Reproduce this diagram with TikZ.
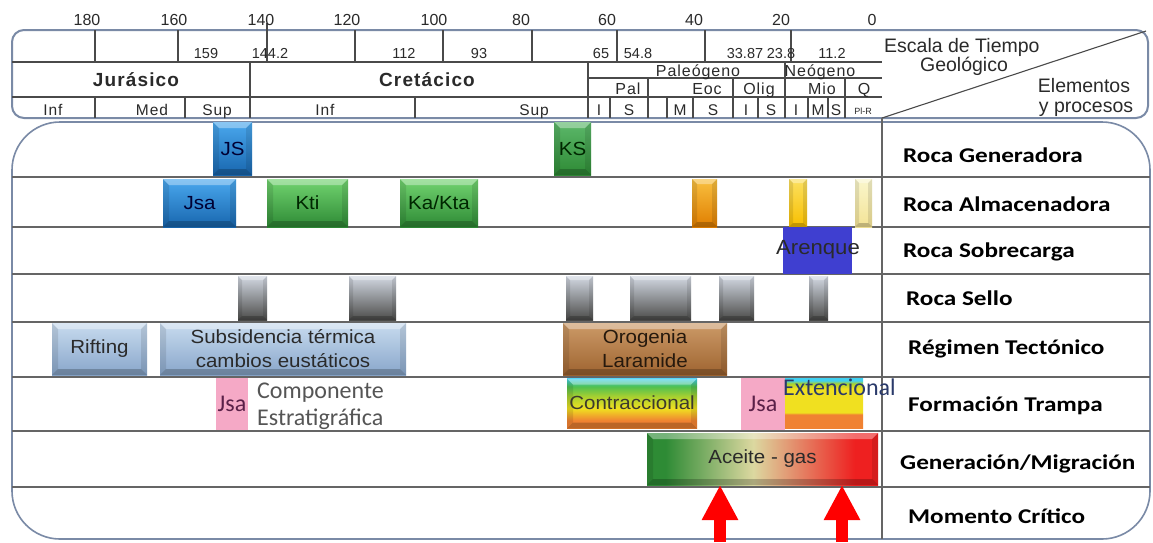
\documentclass[tikz,border=0pt]{standalone}
\usepackage{fontspec}
\setmainfont{Liberation Sans}
\newfontfamily\fAr{Liberation Sans}
\newfontfamily\fArW[FakeStretch=1.08]{Liberation Sans}
\newfontfamily\fArS[LetterSpace=6]{Liberation Sans}
\newfontfamily\fCal{Carlito}
\newfontfamily\fLab[FakeStretch=1.2]{Carlito}
\usetikzlibrary{arrows.meta}

\definecolor{frameC}{HTML}{7A8AA6}
\definecolor{lineC}{HTML}{4A4A4A}
\definecolor{txtC}{HTML}{2A2A2A}
\definecolor{jblue}{HTML}{1E7BCF}
\definecolor{jblueL}{HTML}{4AA8EE}
\definecolor{jblueD}{HTML}{1866AE}
\definecolor{kgreen}{HTML}{45B048}
\definecolor{kgreenL}{HTML}{72D470}
\definecolor{kgreenD}{HTML}{2E8A35}
\definecolor{ksgreen}{HTML}{3A9A48}
\definecolor{ksgreenL}{HTML}{5CB86A}
\definecolor{sel1}{HTML}{D2D8E2}
\definecolor{sel2}{HTML}{A4AAB2}
\definecolor{sel3}{HTML}{4C4C4A}
\definecolor{rift}{HTML}{A6C0E0}
\definecolor{riftL}{HTML}{C8DBEF}
\definecolor{riftD}{HTML}{88A6CA}
\definecolor{orog}{HTML}{B87A42}
\definecolor{orogL}{HTML}{CC9A68}
\definecolor{orogD}{HTML}{9E6430}
\definecolor{pinkC}{HTML}{F5A9C6}
\definecolor{arenC}{HTML}{3F3FD0}
\definecolor{orng}{HTML}{F29400}
\definecolor{orngL}{HTML}{F8C040}
\definecolor{orngD}{HTML}{E07E00}
\definecolor{yell}{HTML}{F7C600}
\definecolor{yellL}{HTML}{FBE060}
\definecolor{pale}{HTML}{F2EEA6}
\definecolor{paleL}{HTML}{FAF6CC}
\definecolor{cOr}{HTML}{F08232}
\definecolor{cYe}{HTML}{F0E020}
\definecolor{cYg}{HTML}{A8D030}
\definecolor{cGr}{HTML}{50C050}
\definecolor{cCy}{HTML}{40D0F0}
\definecolor{aG}{HTML}{2E8B35}
\definecolor{aM}{HTML}{DCD8A0}
\definecolor{aR}{HTML}{EE2020}
\definecolor{jsaT}{HTML}{5A2048}
\definecolor{extT}{HTML}{2A3A6A}

\pgfdeclareverticalshading{contrsh}{100bp}{color(0bp)=(cOr); color(25bp)=(cOr); color(33bp)=(cOr); color(45bp)=(cYe); color(57bp)=(cYg); color(67bp)=(cGr); color(75bp)=(cCy); color(100bp)=(cCy)}
\pgfdeclareverticalshading{extsh}{100bp}{color(0bp)=(cOr); color(25bp)=(cOr); color(39bp)=(cOr); color(41bp)=(cYe); color(65bp)=(cYe); color(70bp)=(cYg); color(73bp)=(cCy); color(75bp)=(cCy); color(100bp)=(cCy)}
\pgfdeclarehorizontalshading{acesh}{100bp}{color(0bp)=(aG); color(25bp)=(aG); color(29bp)=(aG); color(48bp)=(aM); color(70bp)=(aR); color(75bp)=(aR); color(100bp)=(aR)}

\tikzset{
  bev/.style={path picture={
    \fill[white,opacity=.35] (path picture bounding box.north west) -- (path picture bounding box.north east)
      -- ([shift={(-#1,-#1)}]path picture bounding box.north east) -- ([shift={(#1,-#1)}]path picture bounding box.north west) -- cycle;
    \fill[black,opacity=.22] (path picture bounding box.south west) -- (path picture bounding box.south east)
      -- ([shift={(-#1,#1)}]path picture bounding box.south east) -- ([shift={(#1,#1)}]path picture bounding box.south west) -- cycle;
    \fill[black,opacity=.10] (path picture bounding box.north west) -- (path picture bounding box.south west)
      -- ([shift={(#1,#1)}]path picture bounding box.south west) -- ([shift={(#1,-#1)}]path picture bounding box.north west) -- cycle;
    \fill[black,opacity=.10] (path picture bounding box.north east) -- (path picture bounding box.south east)
      -- ([shift={(-#1,#1)}]path picture bounding box.south east) -- ([shift={(-#1,-#1)}]path picture bounding box.north east) -- cycle;
  }},
  bar/.style={inner sep=0pt, outer sep=0pt, align=center, text=txtC,
    font=\fontsize{19}{24}\selectfont\fArW, bev=6pt},
  blu/.style={bar, top color=jblueL, middle color=jblue, bottom color=jblueD, text=black!80!blue},
  grn/.style={bar, top color=kgreenL, middle color=kgreen, bottom color=kgreenD, text=black!85!green},
  grn2/.style={bar, top color=ksgreenL, middle color=ksgreen, bottom color=kgreenD, text=black!85!green},
  sel/.style={bar, top color=sel1, middle color=sel2, bottom color=sel3, bev=4pt, minimum height=44pt},
  rif/.style={bar, top color=riftL, middle color=rift, bottom color=riftD},
  bartxt/.style={inner sep=0pt, text=txtC, font=\fontsize{19}{24}\selectfont\fArW},
  caltxt/.style={inner sep=0pt, font=\fontsize{24}{27}\selectfont\fCal},
  hline/.style={draw=lineC, line width=1.1pt},
  rowline/.style={draw=lineC!85, line width=1.5pt},
  tick/.style={anchor=base, inner sep=0pt, text=txtC, font=\fontsize{16}{18}\selectfont\fAr},
  small/.style={anchor=base, inner sep=0pt, text=txtC, font=\fontsize{14.5}{16}\selectfont\fAr},
  per/.style={anchor=base, inner sep=0pt, text=txtC, font=\fontsize{19}{22}\selectfont\fArS\bfseries},
  ep/.style={anchor=base, inner sep=0pt, text=txtC, font=\fontsize{16}{18}\selectfont\fArS},
  sub/.style={anchor=base, inner sep=0pt, text=txtC, font=\fontsize{15.5}{17}\selectfont\fArS},
  hdrt/.style={anchor=base, inner sep=0pt, text=txtC, font=\fontsize{19.5}{21}\selectfont\fAr},
  lab/.style={anchor=west, inner sep=0pt, text=black, font=\fontsize{21}{24}\selectfont\fLab\bfseries},
  redarrow/.style={draw=red, line width=12pt, -{Triangle[width=34pt,length=35pt]}},
}

\begin{document}
\begin{tikzpicture}[x=1pt,y=-1pt]
\useasboundingbox (0,0) rectangle (1153,542);
\fill[white] (0,0) rectangle (1153,542);

% ---------- header frame and grid ----------
\draw[draw=frameC, line width=2pt, rounded corners=12pt] (12,30) rectangle (1148,118);
\draw[hline] (12,62) -- (882,62);
\draw[hline] (12,97) -- (882,97);
\draw[hline] (588,78) -- (882,78);
\foreach \x in {95,178,355,443,532,617,705,791} \draw[hline] (\x,30) -- (\x,62);
\draw[hline, line width=1.6pt] (267,23) -- (267,62);
\foreach \x in {250,588,785} \draw[hline] (\x,62) -- (\x,118);
\foreach \x in {648,733,845} \draw[hline] (\x,78) -- (\x,118);
\foreach \x in {95,185,415,610,667,693,758,808,828} \draw[hline] (\x,97) -- (\x,118);
\draw[hline] (882,118) -- (1146,31);

% tick labels
\node[tick] (t180) at (87,25) {180};
\node[tick] (t160) at (174,25) {160};
\node[tick] (t140) at (261,25) {140};
\node[tick] (t120) at (347,25) {120};
\node[tick] (t100) at (434,25) {100};
\node[tick] (t80) at (521,25) {80};
\node[tick] (t60) at (607,25) {60};
\node[tick] (t40) at (694,25) {40};
\node[tick] (t20) at (781,25) {20};
\node[tick] (t0) at (872,25) {0};

% small ages
\node[small] (a159) at (206,58) {159};
\node[small] (a144) at (270,58) {144.2};
\node[small] (a112) at (404,58) {112};
\node[small] (a93) at (479,58) {93};
\node[small] (a65) at (601,58) {65};
\node[small] (a548) at (638,58) {54.8};
\node[small] (a3387) at (745,58) {33.87};
\node[small] (a238) at (781,58) {23.8};
\node[small] (a112b) at (832,58) {11.2};

% periods
\node[per] (jur) at (136,86) {Jurásico};
\node[per] (cre) at (427,86) {Cretácico};
\node[ep] (pale) at (698,76) {Paleógeno};
\node[ep] (neo) at (820,76) {Neógeno};
\node[ep] (pal) at (628,94) {Pal};
\node[ep] (eoc) at (707,94) {Eoc};
\node[ep] (olig) at (759,94) {Olig};
\node[ep] (mio) at (822,94) {Mio};
\node[ep] (q) at (864,94) {Q};

% epochs / stages
\node[sub] (jinf) at (53,115) {Inf};
\node[sub] (jmed) at (152,115) {Med};
\node[sub] (jsup) at (217,115) {Sup};
\node[sub] (kinf) at (325,115) {Inf};
\node[sub] (ksup) at (534,115) {Sup};
\node[sub] (pi) at (599,115) {I};
\node[sub] (ps) at (629,115) {S};
\node[sub] (em) at (680,115) {M};
\node[sub] (es) at (713,115) {S};
\node[sub] (oi) at (746,115) {I};
\node[sub] (os) at (771,115) {S};
\node[sub] (mi) at (796,115) {I};
\node[sub] (mm) at (818,115) {M};
\node[sub] (ms) at (836,115) {S};
\node[anchor=base, inner sep=0pt, text=txtC, font=\fontsize{9}{10}\selectfont\fAr] (plr) at (863,114) {Pl-R};

% header right cell
\node[hdrt, anchor=base west] (esc) at (884,52) {Escala de Tiempo};
\node[hdrt] (geo) at (964,71) {Geológico};
\node[hdrt] (ele) at (1084,92) {Elementos};
\node[hdrt] (ypr) at (1086,112) {y procesos};

% ---------- body ----------
\draw[draw=frameC, line width=1.6pt, rounded corners=48pt] (12,122) rectangle (1150,539);
\foreach \y in {177,227,274,322,377,431,487} \draw[rowline] (12,\y) -- (1150,\y);
\draw[rowline] (882,118) -- (882,539);

% row labels
\node[lab] (l1) at (903,155) {Roca Generadora};
\node[lab] (l2) at (903,204) {Roca Almacenadora};
\node[lab] (l3) at (903,252) {Roca Sobrecarga};
\node[lab] (l4) at (906,298) {Roca Sello};
\node[lab] (l5) at (908,349) {Régimen Tectónico};
\node[lab] (l6) at (908,406) {Formación Trampa};
\node[lab] (l7) at (900,464) {Generación/Migración};
\node[lab] (l8) at (908,516) {Momento Crítico};

% row 1: Roca generadora
\node[blu, minimum width=39pt, minimum height=53pt] (js) at (232.5,148.5) {JS};
\node[grn2, minimum width=37pt, minimum height=53pt] (ks) at (572.5,148.5) {KS};

% row 2: Roca almacenadora
\node[blu, minimum width=73pt, minimum height=48pt] (jsa) at (199.5,203) {Jsa};
\node[grn, minimum width=81pt, minimum height=48pt] (kti) at (307.5,203) {Kti};
\node[grn, minimum width=78pt, minimum height=48pt] (kakta) at (439,203) {Ka/Kta};
\node[bar, top color=orngL, middle color=orng, bottom color=orngD, bev=5pt, minimum width=25pt, minimum height=48pt] (or1) at (704.5,203) {};
\node[bar, top color=yellL, middle color=yell, bottom color=yell!90!orange, bev=4pt, minimum width=18pt, minimum height=48pt] (ye1) at (798,203) {};
\node[bar, top color=paleL, middle color=pale, bottom color=pale!90!orange, bev=4pt, minimum width=17pt, minimum height=48pt] (ye2) at (863.5,203) {};

% row 3: Roca sobrecarga
\node[inner sep=0pt, outer sep=0pt, fill=arenC, minimum width=69pt, minimum height=47pt] (aren) at (817.5,250.5) {};
\node[bartxt, font=\fontsize{20.5}{24}\selectfont\fArW] (arenT) at (818,250) {Arenque};

% row 4: Roca sello
\node[sel, minimum width=29pt] (s1) at (252.5,298) {};
\node[sel, minimum width=47pt] (s2) at (372.5,298) {};
\node[sel, minimum width=27pt] (s3) at (579.5,298) {};
\node[sel, minimum width=61pt] (s4) at (660.5,298) {};
\node[sel, minimum width=35pt] (s5) at (736.5,298) {};
\node[sel, minimum width=19pt] (s6) at (818.5,298) {};

% row 5: Regimen tectonico
\node[rif, minimum width=95pt, minimum height=52pt] (rifting) at (99.5,349) {Rifting};
\node[rif, minimum width=246pt, minimum height=52pt] (subs) at (283,349) {Subsidencia térmica\\cambios eustáticos};
\node[bar, top color=orogL, middle color=orog, bottom color=orogD, minimum width=164pt, minimum height=52pt, text=black!80!brown] (orog) at (645,349) {Orogenia\\Laramide};

% row 6: Formacion trampa
\node[inner sep=0pt, outer sep=0pt, fill=pinkC, minimum width=32pt, minimum height=52pt] (pk1) at (232,404) {};
\node[caltxt, text=jsaT] (pk1T) at (232,404) {Jsa};
\node[caltxt, text=txtC!80, anchor=base west, align=left] (comp) at (257,398) {Componente};
\node[caltxt, text=txtC!80, anchor=base west, align=left] (estr) at (257,425) {Estratigráfica};
\node[inner sep=0pt, outer sep=0pt, shade, shading=contrsh, minimum width=130pt, minimum height=50pt, bev=6pt] (contr) at (632,403.5) {};
\node[bartxt, text=black!75!olive] (contrT) at (632,403) {Contraccional};
\node[inner sep=0pt, outer sep=0pt, fill=pinkC, minimum width=44pt, minimum height=52pt] (pk2) at (763,404) {};
\node[caltxt, text=jsaT] (pk2T) at (763,404) {Jsa};
\node[inner sep=0pt, outer sep=0pt, shade, shading=extsh, minimum width=78pt, minimum height=50pt] (ext) at (824,403.5) {};
\node[caltxt, text=extT, anchor=base west] (extT) at (783,395) {Extencional};

% row 7: Generacion / migracion
\node[bar, shade, shading=acesh, minimum width=231pt, minimum height=52pt] (ace) at (762.5,459) {Aceite - gas};

% row 8: Momento critico
\coordinate (m1) at (720,542);
\coordinate (m2) at (842,542);
\draw[redarrow] (m1) -- (m1 |- ace.south);
\draw[redarrow] (m2) -- (m2 |- ace.south);
\end{tikzpicture}
\end{document}
